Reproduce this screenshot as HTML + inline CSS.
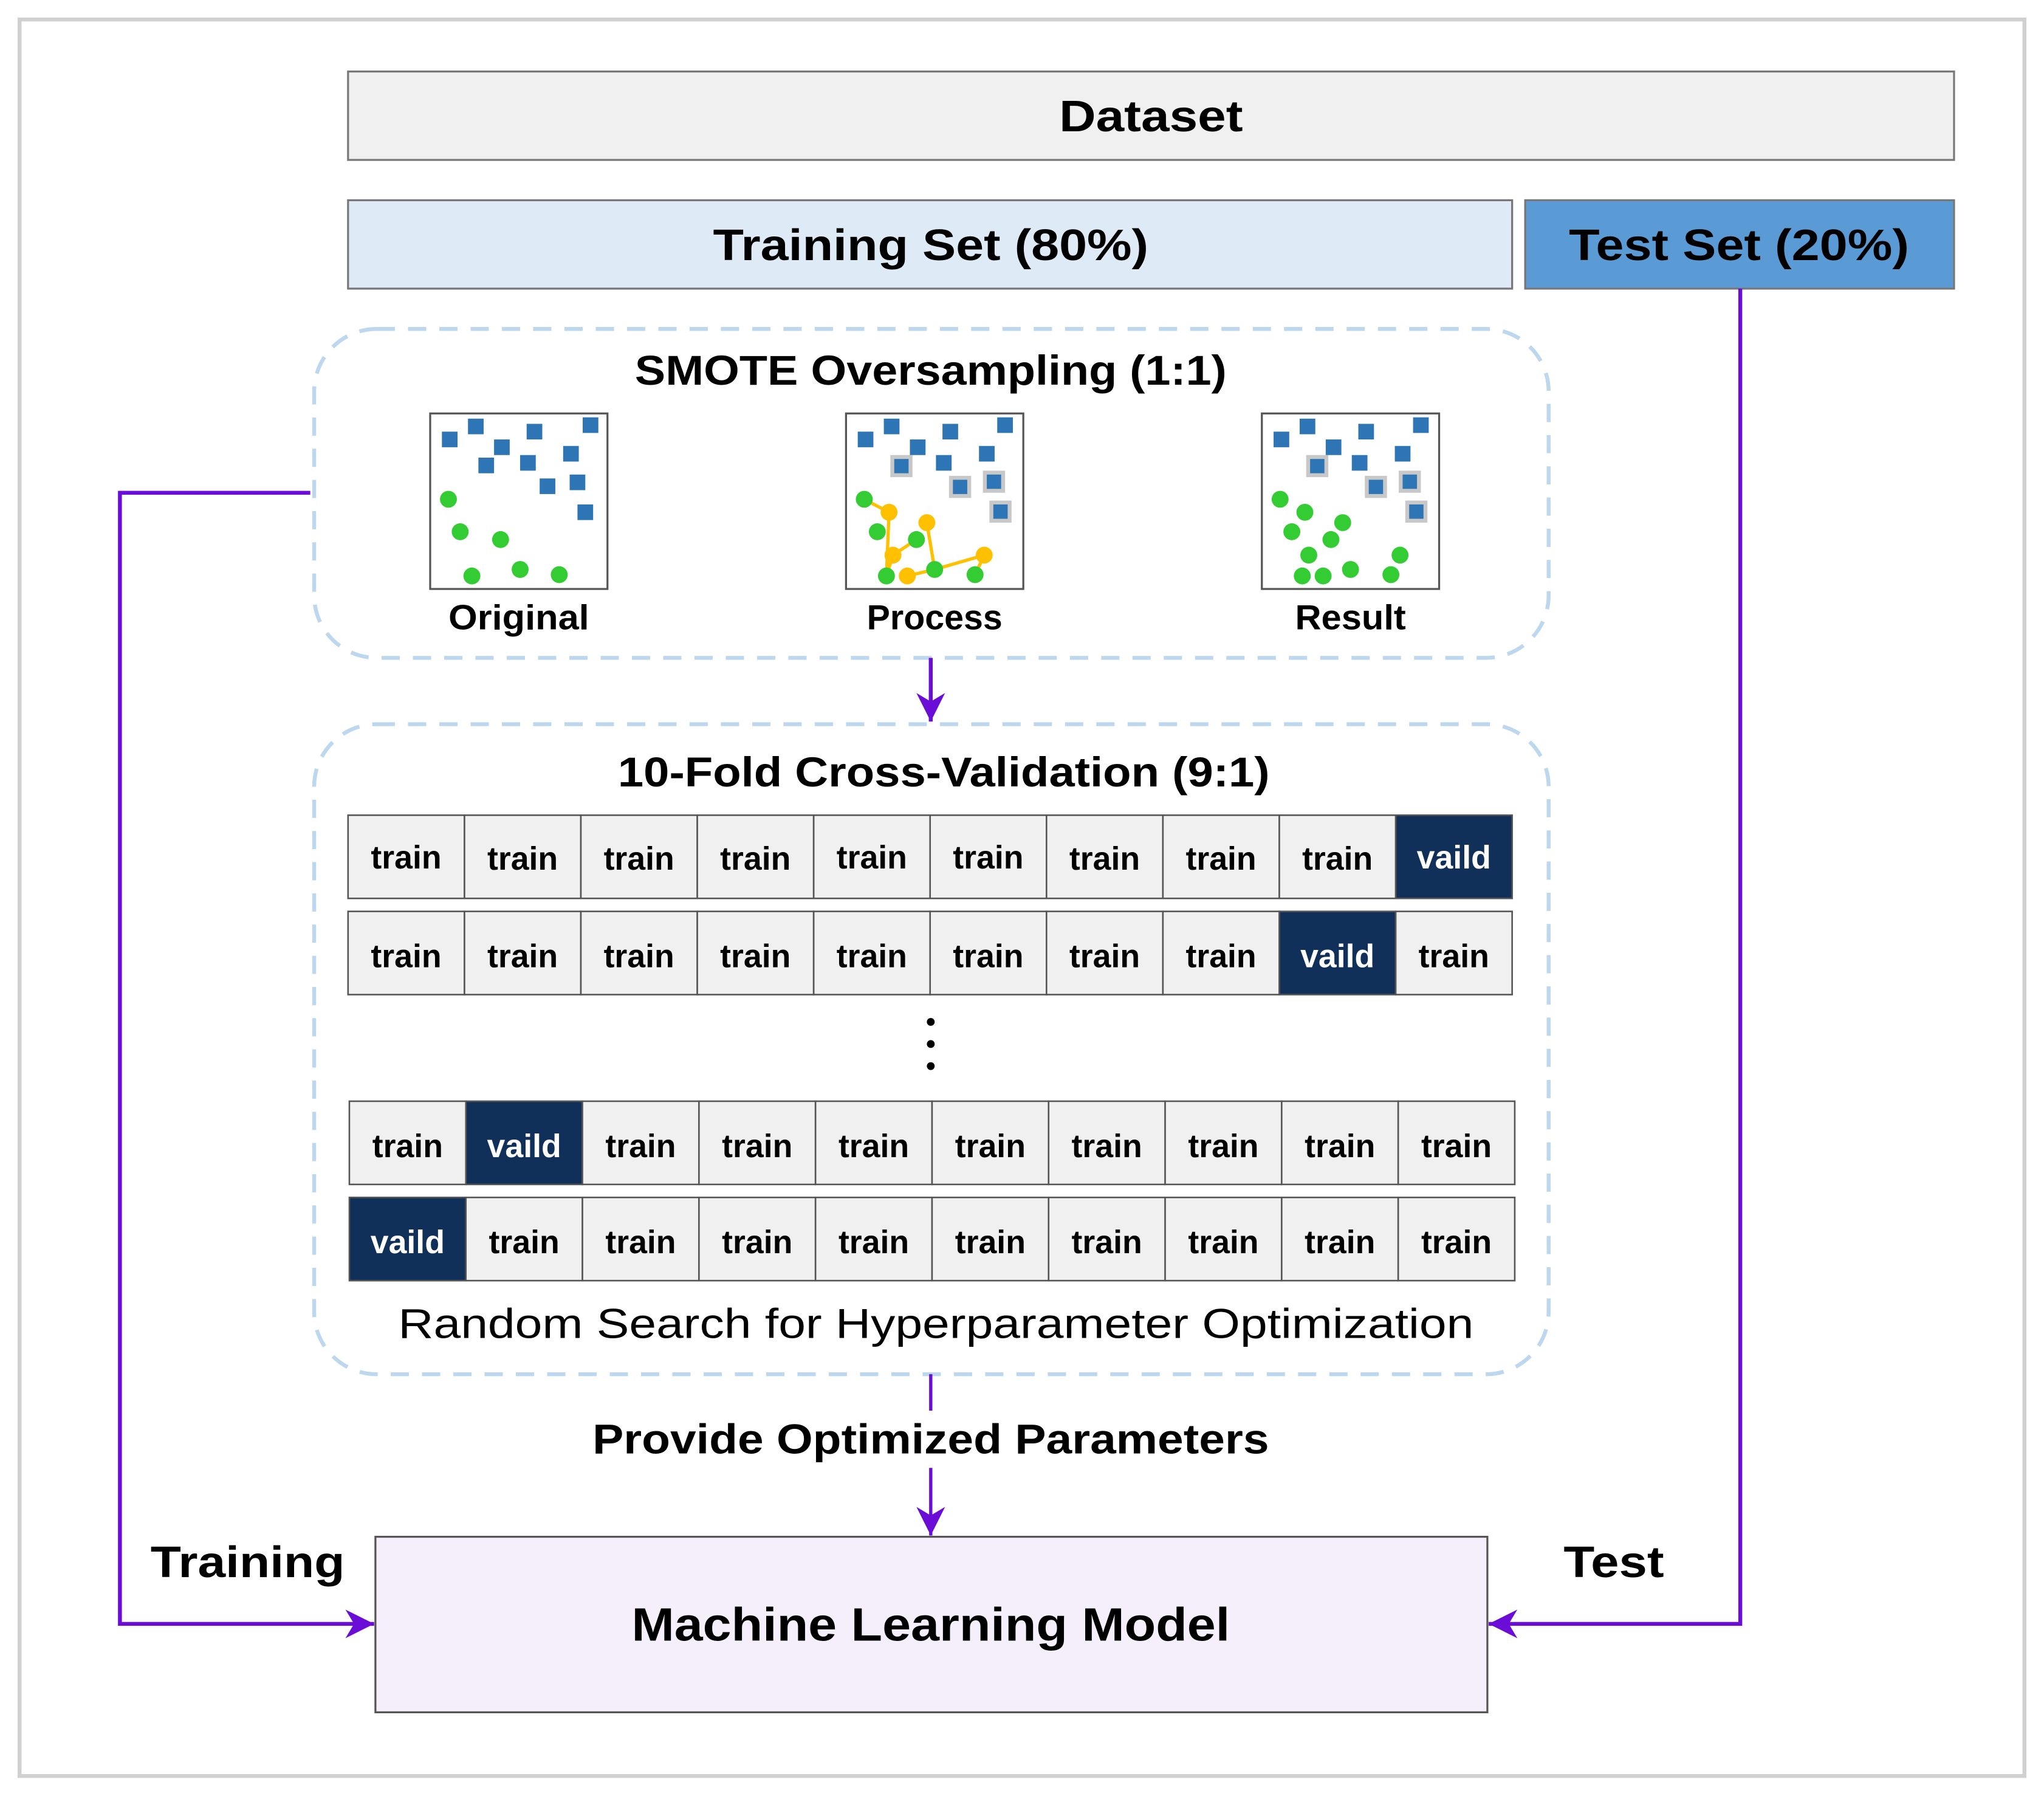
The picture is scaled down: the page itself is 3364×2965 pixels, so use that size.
<!DOCTYPE html>
<html><head><meta charset="utf-8"><style>
html,body{margin:0;padding:0;background:#fff;}
svg{display:block;}
text{font-family:"Liberation Sans",sans-serif;fill:#000;}
.b{font-weight:bold;}
</style></head><body>
<svg width="3364" height="2965" viewBox="0 0 1568 1386" preserveAspectRatio="none" xmlns="http://www.w3.org/2000/svg">
<defs>
<marker id="ah" viewBox="0 0 10 10" refX="10" refY="5" markerWidth="24" markerHeight="22" markerUnits="userSpaceOnUse" orient="auto">
<path d="M0,0 L10,5 L0,10 L3,5 Z" fill="#6a0dd6"/></marker>
</defs>
<rect x="0" y="0" width="1568" height="1386" fill="#fff"/>
<rect x="15" y="15" width="1538" height="1351" fill="none" stroke="#d0d0d0" stroke-width="3"/>

<rect x="267" y="55" width="1232" height="68" fill="#f0f0f0" stroke="#777" stroke-width="1.5"/>
<text x="883" y="101" text-anchor="middle" class="b" font-size="34" textLength="141" lengthAdjust="spacingAndGlyphs">Dataset</text>
<rect x="267" y="154" width="893" height="68" fill="#deebf7" stroke="#777" stroke-width="1.5"/>
<text x="714" y="200" text-anchor="middle" class="b" font-size="34" textLength="334" lengthAdjust="spacingAndGlyphs">Training Set (80%)</text>
<rect x="1170" y="154" width="329" height="68" fill="#5b9bd5" stroke="#777" stroke-width="1.5"/>
<text x="1334" y="200" text-anchor="middle" class="b" font-size="34" textLength="261" lengthAdjust="spacingAndGlyphs">Test Set (20%)</text>

<rect x="241" y="253" width="947" height="253" rx="48" fill="none" stroke="#bdd7ee" stroke-width="3" stroke-dasharray="14 10"/>
<text x="714" y="296" text-anchor="middle" class="b" font-size="32" textLength="454" lengthAdjust="spacingAndGlyphs">SMOTE Oversampling (1:1)</text>

<g>
<rect x="330" y="318" width="136" height="135" fill="#fff" stroke="#555" stroke-width="1.5"/>
<g fill="#2e75b6">
<rect x="339" y="332" width="12" height="12"/><rect x="359" y="322" width="12" height="12"/><rect x="379" y="338" width="12" height="12"/><rect x="404" y="326" width="12" height="12"/><rect x="432" y="343" width="12" height="12"/><rect x="447" y="321" width="12" height="12"/><rect x="367" y="352" width="12" height="12"/><rect x="399" y="350" width="12" height="12"/><rect x="414" y="368" width="12" height="12"/><rect x="437" y="365" width="12" height="12"/><rect x="443" y="388" width="12" height="12"/>
</g>
<g fill="#33cc33">
<circle cx="344" cy="384" r="6.5"/><circle cx="353" cy="409" r="6.5"/><circle cx="384" cy="415" r="6.5"/><circle cx="362" cy="443" r="6.5"/><circle cx="399" cy="438" r="6.5"/><circle cx="429" cy="442" r="6.5"/>
</g>
<text x="398" y="484" text-anchor="middle" class="b" font-size="27" textLength="108" lengthAdjust="spacingAndGlyphs">Original</text>
</g>
<g>
<rect x="649" y="318" width="136" height="135" fill="#fff" stroke="#555" stroke-width="1.5"/>
<g fill="#c8c8c8">
<rect x="683" y="350" width="17" height="17"/><rect x="728" y="366" width="17" height="17"/><rect x="754" y="362" width="17" height="17"/><rect x="759" y="385" width="17" height="17"/>
</g>
<g fill="#2e75b6">
<rect x="658" y="332" width="12" height="12"/><rect x="678" y="322" width="12" height="12"/><rect x="698" y="338" width="12" height="12"/><rect x="723" y="326" width="12" height="12"/><rect x="751" y="343" width="12" height="12"/><rect x="765" y="321" width="12" height="12"/><rect x="718" y="350" width="12" height="12"/>
<rect x="686" y="353" width="11" height="11"/><rect x="731" y="369" width="11" height="11"/><rect x="757" y="365" width="11" height="11"/><rect x="762" y="388" width="11" height="11"/>
</g>
<g stroke="#ffc000" stroke-width="2.5" fill="none">
<polyline points="663,384 682,394 680,443"/><polyline points="703,415 685,427 680,443"/><polyline points="711,402 717,438"/><polyline points="696,443 717,438 755,427 748,442"/>
</g>
<g fill="#33cc33">
<circle cx="663" cy="384" r="6.5"/><circle cx="673" cy="409" r="6.5"/><circle cx="703" cy="415" r="6.5"/><circle cx="680" cy="443" r="6.5"/><circle cx="717" cy="438" r="6.5"/><circle cx="748" cy="442" r="6.5"/>
</g>
<g fill="#ffc000">
<circle cx="682" cy="394" r="6.5"/><circle cx="711" cy="402" r="6.5"/><circle cx="685" cy="427" r="6.5"/><circle cx="696" cy="443" r="6.5"/><circle cx="755" cy="427" r="6.5"/>
</g>
<text x="717" y="484" text-anchor="middle" class="b" font-size="27" textLength="104" lengthAdjust="spacingAndGlyphs">Process</text>
</g>
<g>
<rect x="968" y="318" width="136" height="135" fill="#fff" stroke="#555" stroke-width="1.5"/>
<g fill="#c8c8c8">
<rect x="1002" y="350" width="17" height="17"/><rect x="1047" y="366" width="17" height="17"/><rect x="1073" y="362" width="17" height="17"/><rect x="1078" y="385" width="17" height="17"/>
</g>
<g fill="#2e75b6">
<rect x="977" y="332" width="12" height="12"/><rect x="997" y="322" width="12" height="12"/><rect x="1017" y="338" width="12" height="12"/><rect x="1042" y="326" width="12" height="12"/><rect x="1070" y="343" width="12" height="12"/><rect x="1084" y="321" width="12" height="12"/><rect x="1037" y="350" width="12" height="12"/>
<rect x="1005" y="353" width="11" height="11"/><rect x="1050" y="369" width="11" height="11"/><rect x="1076" y="365" width="11" height="11"/><rect x="1081" y="388" width="11" height="11"/>
</g>
<g fill="#33cc33">
<circle cx="982" cy="384" r="6.5"/><circle cx="1001" cy="394" r="6.5"/><circle cx="991" cy="409" r="6.5"/><circle cx="1030" cy="402" r="6.5"/><circle cx="1021" cy="415" r="6.5"/><circle cx="1004" cy="427" r="6.5"/><circle cx="999" cy="443" r="6.5"/><circle cx="1015" cy="443" r="6.5"/><circle cx="1036" cy="438" r="6.5"/><circle cx="1074" cy="427" r="6.5"/><circle cx="1067" cy="442" r="6.5"/>
</g>
<text x="1036" y="484" text-anchor="middle" class="b" font-size="27" textLength="85" lengthAdjust="spacingAndGlyphs">Result</text>
</g>

<line x1="714" y1="506" x2="714" y2="555" stroke="#6a0dd6" stroke-width="3" marker-end="url(#ah)"/>

<rect x="241" y="557" width="947" height="500" rx="48" fill="none" stroke="#bdd7ee" stroke-width="3" stroke-dasharray="14 10"/>
<text x="724" y="605" text-anchor="middle" class="b" font-size="32" textLength="500" lengthAdjust="spacingAndGlyphs">10-Fold Cross-Validation (9:1)</text>

<g stroke="#555" stroke-width="1.2" fill="#f0f0f0">
<rect x="267" y="627" width="89.3" height="64"/><rect x="356.3" y="627" width="89.3" height="64"/><rect x="445.6" y="627" width="89.3" height="64"/><rect x="534.9" y="627" width="89.3" height="64"/><rect x="624.2" y="627" width="89.3" height="64"/><rect x="713.5" y="627" width="89.3" height="64"/><rect x="802.8" y="627" width="89.3" height="64"/><rect x="892.1" y="627" width="89.3" height="64"/><rect x="981.4" y="627" width="89.3" height="64"/><rect x="1070.7" y="627" width="89.3" height="64" fill="#10305a"/>
<rect x="267" y="701" width="89.3" height="64"/><rect x="356.3" y="701" width="89.3" height="64"/><rect x="445.6" y="701" width="89.3" height="64"/><rect x="534.9" y="701" width="89.3" height="64"/><rect x="624.2" y="701" width="89.3" height="64"/><rect x="713.5" y="701" width="89.3" height="64"/><rect x="802.8" y="701" width="89.3" height="64"/><rect x="892.1" y="701" width="89.3" height="64"/><rect x="981.4" y="701" width="89.3" height="64" fill="#10305a"/><rect x="1070.7" y="701" width="89.3" height="64"/>
<rect x="268" y="847" width="89.4" height="64"/><rect x="357.4" y="847" width="89.4" height="64" fill="#10305a"/><rect x="446.8" y="847" width="89.4" height="64"/><rect x="536.2" y="847" width="89.4" height="64"/><rect x="625.6" y="847" width="89.4" height="64"/><rect x="715" y="847" width="89.4" height="64"/><rect x="804.4" y="847" width="89.4" height="64"/><rect x="893.8" y="847" width="89.4" height="64"/><rect x="983.2" y="847" width="89.4" height="64"/><rect x="1072.6" y="847" width="89.4" height="64"/>
<rect x="268" y="921" width="89.4" height="64" fill="#10305a"/><rect x="357.4" y="921" width="89.4" height="64"/><rect x="446.8" y="921" width="89.4" height="64"/><rect x="536.2" y="921" width="89.4" height="64"/><rect x="625.6" y="921" width="89.4" height="64"/><rect x="715" y="921" width="89.4" height="64"/><rect x="804.4" y="921" width="89.4" height="64"/><rect x="893.8" y="921" width="89.4" height="64"/><rect x="983.2" y="921" width="89.4" height="64"/><rect x="1072.6" y="921" width="89.4" height="64"/>
</g>
<g class="b" font-size="25" text-anchor="middle" font-weight="bold">
<text x="311.6" y="668">train</text><text x="400.9" y="669">train</text><text x="490.2" y="669">train</text><text x="579.5" y="669">train</text><text x="668.8" y="668">train</text><text x="758.1" y="668">train</text><text x="847.4" y="669">train</text><text x="936.7" y="669">train</text><text x="1026" y="669">train</text><text x="1115.3" y="668" style="fill:#fff">vaild</text>
<text x="311.6" y="744">train</text><text x="400.9" y="744">train</text><text x="490.2" y="744">train</text><text x="579.5" y="744">train</text><text x="668.8" y="744">train</text><text x="758.1" y="744">train</text><text x="847.4" y="744">train</text><text x="936.7" y="744">train</text><text x="1026" y="744" style="fill:#fff">vaild</text><text x="1115.3" y="744">train</text>
<text x="312.7" y="890">train</text><text x="402.1" y="890" style="fill:#fff">vaild</text><text x="491.5" y="890">train</text><text x="580.9" y="890">train</text><text x="670.3" y="890">train</text><text x="759.7" y="890">train</text><text x="849.1" y="890">train</text><text x="938.5" y="890">train</text><text x="1027.9" y="890">train</text><text x="1117.3" y="890">train</text>
<text x="312.7" y="964" style="fill:#fff">vaild</text><text x="402.1" y="964">train</text><text x="491.5" y="964">train</text><text x="580.9" y="964">train</text><text x="670.3" y="964">train</text><text x="759.7" y="964">train</text><text x="849.1" y="964">train</text><text x="938.5" y="964">train</text><text x="1027.9" y="964">train</text><text x="1117.3" y="964">train</text>
</g>
<g fill="#000"><circle cx="714" cy="786" r="3"/><circle cx="714" cy="803" r="3"/><circle cx="714" cy="820" r="3"/></g>
<text x="718" y="1029" text-anchor="middle" font-size="32" textLength="825" lengthAdjust="spacingAndGlyphs">Random Search for Hyperparameter Optimization</text>

<line x1="714" y1="1057" x2="714" y2="1085" stroke="#6a0dd6" stroke-width="2.5"/>
<text x="714" y="1118" text-anchor="middle" class="b" font-size="32" textLength="519" lengthAdjust="spacingAndGlyphs">Provide Optimized Parameters</text>
<line x1="714" y1="1129" x2="714" y2="1181" stroke="#6a0dd6" stroke-width="2.5" marker-end="url(#ah)"/>

<rect x="288" y="1182" width="853" height="135" fill="#f5effc" stroke="#555" stroke-width="1.5"/>
<text x="714" y="1262" text-anchor="middle" class="b" font-size="36" textLength="459" lengthAdjust="spacingAndGlyphs">Machine Learning Model</text>

<polyline points="238,379 92,379 92,1249 287,1249" fill="none" stroke="#6a0dd6" stroke-width="3" marker-end="url(#ah)"/>
<text x="190" y="1213" text-anchor="middle" class="b" font-size="34" textLength="149" lengthAdjust="spacingAndGlyphs">Training</text>
<polyline points="1335,222 1335,1249 1142,1249" fill="none" stroke="#6a0dd6" stroke-width="3" marker-end="url(#ah)"/>
<text x="1238" y="1213" text-anchor="middle" class="b" font-size="34" textLength="77" lengthAdjust="spacingAndGlyphs">Test</text>
</svg>
</body></html>
